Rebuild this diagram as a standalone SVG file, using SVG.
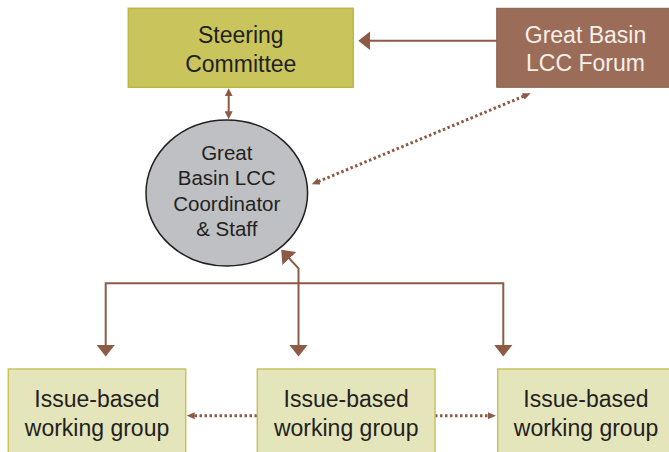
<svg xmlns="http://www.w3.org/2000/svg" width="669" height="452" viewBox="0 0 669 452">
<style>
text{font-family:"Liberation Sans",Arial,sans-serif;text-anchor:middle;fill:#231f20}
.big{font-size:23px}
.ell{font-size:20.5px}
.wg rect{fill:#e5e5bc;stroke:#c6c35c;stroke-width:1.5}
.solid{fill:none;stroke:#8c5a45;stroke-width:2}
.dot{fill:none;stroke:#8c5a45;stroke-width:3;stroke-dasharray:2.5 2.5}
</style>
<defs>
<marker id="ab" viewBox="0 0 12 19" markerWidth="12" markerHeight="19" refX="2" refY="9.5" orient="auto-start-reverse" markerUnits="userSpaceOnUse"><path d="M0,0 L12,9.5 L0,19 z" fill="#8c5a45"/></marker>
<marker id="as" viewBox="0 0 8 8" markerWidth="8" markerHeight="8" refX="2" refY="4" orient="auto-start-reverse" markerUnits="userSpaceOnUse"><path d="M0,0 L8,4 L0,8 z" fill="#8c5a45"/></marker>
<marker id="ad" viewBox="0 0 8 7" markerWidth="8" markerHeight="7" refX="1" refY="3.5" orient="auto-start-reverse" markerUnits="userSpaceOnUse"><path d="M0,0 L8,3.5 L0,7 z" fill="#8c5a45"/></marker>
</defs>
<g id="connectors">
<path class="solid" d="M496.7,40.7 L368.3,40.7" marker-end="url(#ab)"/>
<path class="solid" d="M228.7,94.3 L228.7,113.3" marker-start="url(#as)" marker-end="url(#as)"/>
<path class="dot" d="M318.2,181.6 L524.2,96" marker-start="url(#ad)" marker-end="url(#ad)"/>
<path class="solid" d="M105.7,346.5 L105.7,283.3 L503.3,283.3 L503.3,346.5" marker-start="url(#ab)" marker-end="url(#ab)"/>
<path class="solid" d="M298.5,346.5 L298.5,268.3 L288,257" marker-start="url(#ab)" marker-end="url(#ab)"/>
<path class="dot" d="M257,415.7 L193.7,415.7" marker-end="url(#ad)"/>
<path class="dot" d="M435,415.7 L489,415.7" marker-end="url(#ad)"/>
</g>
<g id="steering">
<rect x="128.3" y="8.3" width="225" height="79" fill="#c9c45b" stroke="#b9b944" stroke-width="1.5"/>
<text class="big" x="240.8" y="42.7">Steering</text>
<text class="big" x="240.8" y="71.7">Committee</text>
</g>
<g id="forum">
<rect x="496.7" y="8.3" width="178" height="79" fill="#9b6d58" stroke="#8a5f4b" stroke-width="1"/>
<text class="big" x="585.5" y="42.7" style="fill:#f7efe9">Great Basin</text>
<text class="big" x="585.5" y="71.2" style="fill:#f7efe9">LCC Forum</text>
</g>
<g id="coordinator">
<ellipse cx="226.8" cy="193" rx="80.8" ry="73" fill="#bfc0c3" stroke="#231f20" stroke-width="1.5"/>
<text class="ell" x="226.8" y="160">Great</text>
<text class="ell" x="226.8" y="185.3">Basin LCC</text>
<text class="ell" x="226.8" y="210.6">Coordinator</text>
<text class="ell" x="226.8" y="236">&amp; Staff</text>
</g>
<g id="wg1" class="wg">
<rect x="8.3" y="369" width="177.4" height="100"/>
<text class="big" x="97" y="407">Issue-based</text>
<text class="big" x="97" y="436">working group</text>
</g>
<g id="wg2" class="wg">
<rect x="257.3" y="369" width="177.7" height="100"/>
<text class="big" x="346.2" y="407">Issue-based</text>
<text class="big" x="346.2" y="436">working group</text>
</g>
<g id="wg3" class="wg">
<rect x="497.7" y="369" width="177" height="100"/>
<text class="big" x="586" y="407">Issue-based</text>
<text class="big" x="586" y="436">working group</text>
</g>
</svg>
